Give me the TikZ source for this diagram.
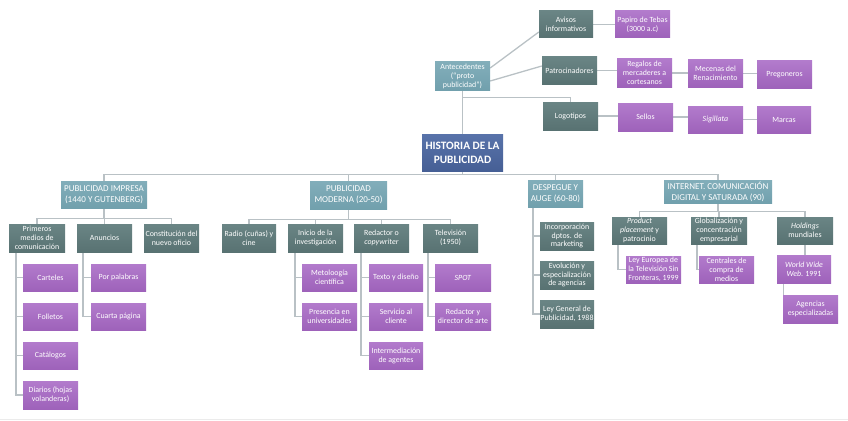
\documentclass[tikz,border=0pt]{standalone}
\usepackage{fontspec}
\setmainfont{Carlito}
\usetikzlibrary{backgrounds,calc}
\definecolor{dkA}{HTML}{6A8585}
\definecolor{dkB}{HTML}{587272}
\definecolor{puA}{HTML}{B27BCC}
\definecolor{puB}{HTML}{9E62BA}
\definecolor{ltA}{HTML}{82AEBA}
\definecolor{ltB}{HTML}{71A0AD}
\definecolor{rtA}{HTML}{5873AA}
\definecolor{rtB}{HTML}{465F95}
\definecolor{lncol}{HTML}{B9C1C5}
\begin{document}
\begin{tikzpicture}[x=1pt,y=-1pt,
  bx/.style={minimum width=55pt,minimum height=27pt,inner sep=0.3pt,align=center,text=white,font=\fontsize{7.9}{8.9}\selectfont},
  dk/.style={bx,top color=dkA,bottom color=dkB},
  pu/.style={bx,top color=puA,bottom color=puB},
  lt/.style={bx,top color=ltA,bottom color=ltB,font=\fontsize{9}{11}\selectfont},
  rt/.style={bx,top color=rtA,bottom color=rtB,font=\fontsize{11.3}{14}\selectfont\bfseries},
  ln/.style={draw=lncol,line width=1.3pt}]
\useasboundingbox (0,0) rectangle (848,420);
% top part
\node[lt,minimum height=28pt,font=\fontsize{7.9}{8.9}\selectfont] (ant) at (462.5,76) {Antecedentes\\(``proto\\publicidad'')};
\node[dk,minimum width=54pt] (avi) at (566,24.5) {Avisos\\informativos};
\node[pu] (pap) at (642.5,24.5) {Papiro de Tebas\\(3000 a.c)};
\node[dk] (pat) at (569.5,70.5) {Patrocinadores};
\node[pu,minimum height=28pt] (reg) at (644.5,73) {Regalos de\\mercaderes a\\cortesanos};
\node[pu] (mec) at (715.5,73.5) {Mecenas del\\Renacimiento};
\node[pu] (pre) at (784.5,74.5) {Pregoneros};
\node[dk,minimum height=28pt] (log) at (570.5,116) {Logotipos};
\node[pu,minimum height=28pt] (sel) at (645.5,117) {Sellos};
\node[pu] (sig) at (715.5,119.5) {\textit{Sigillata}};
\node[pu,minimum width=54pt] (mar) at (784,119.5) {Marcas};
% root
\node[rt,minimum width=81pt,minimum height=37pt] (root) at (462.5,152.5) {HISTORIA DE LA\\PUBLICIDAD};
% level 1
\node[lt,minimum width=86pt] (imp) at (104,194.5) {PUBLICIDAD IMPRESA\\(1440 Y GUTENBERG)};
\node[lt,minimum width=77pt,minimum height=28pt] (mod) at (348.5,195) {PUBLICIDAD\\MODERNA (20-50)};
\node[lt] (des) at (555.5,193.5) {DESPEGUE Y\\AUGE (60-80)};
\node[lt,minimum width=108pt,minimum height=23pt] (int) at (718,191.5) {INTERNET. COMUNICACIÓN\\DIGITAL Y SATURADA (90)};
% impresa
\node[dk,minimum width=56pt,minimum height=28pt] (pri) at (37,238) {Primeros\\medios de\\comunicación};
\node[dk,minimum height=28pt] (anu) at (104.5,238) {Anuncios};
\node[dk,minimum height=28pt] (con) at (171.5,238) {Constitución del\\nuevo oficio};
\node[pu] (car) at (50.5,277.5) {Carteles};
\node[pu] (fol) at (50.5,316.5) {Folletos};
\node[pu] (cat) at (50.5,355.5) {Catálogos};
\node[pu,minimum height=28pt] (dia) at (50.5,395) {Diarios (hojas\\volanderas)};
\node[pu] (pal) at (118.5,277.5) {Por palabras};
\node[pu] (cua) at (118.5,316.5) {Cuarta página};
% moderna
\node[dk,minimum width=54pt,minimum height=28pt] (rad) at (249,238) {Radio (cuñas) y\\cine};
\node[dk,minimum height=28pt] (ini) at (315.5,238) {Inicio de la\\investigación};
\node[dk,minimum height=28pt] (red) at (381.5,238) {Redactor o\\\textit{copywriter}};
\node[dk,minimum height=28pt] (tel) at (450.5,238) {Televisión\\(1950)};
\node[pu] (met) at (329.5,277.5) {Metoloogía\\científica};
\node[pu] (pres) at (329.5,316.5) {Presencia en\\universidades};
\node[pu,minimum width=54pt] (tex) at (396,277.5) {Texto y diseño};
\node[pu,minimum width=54pt] (ser) at (396,316.5) {Servicio al\\cliente};
\node[pu,minimum width=54pt] (inte) at (396,355.5) {Intermediación\\de agentes};
\node[pu,minimum width=56pt] (spot) at (463,277.5) {\textit{SPOT}};
\node[pu,minimum width=56pt] (rda) at (463,316.5) {Redactor y\\director de arte};
% despegue
\node[dk,minimum width=54pt,minimum height=28pt] (inc) at (567,236) {Incorporación\\dptos. de\\marketing};
\node[dk,minimum width=54pt,minimum height=28pt] (evo) at (567,275) {Evolución y\\especialización\\de agencias};
\node[dk,minimum width=54pt,minimum height=28pt] (ley) at (567,314) {Ley General de\\Publicidad, 1988};
% internet
\node[dk] (pro) at (639.5,230.5) {\textit{Product}\\\textit{placement} y\\patrocinio};
\node[dk,minimum width=56pt] (glo) at (719,230.5) {Globalización y\\concentración\\empresarial};
\node[dk,minimum width=56pt] (hol) at (805,230.5) {\textit{Holdings}\\mundiales};
\node[pu] (leu) at (653.5,269.5) {Ley Europea de\\la Televisión Sin\\Fronteras, 1999};
\node[pu] (cen) at (726.5,269.5) {Centrales de\\compra de\\medios};
\node[pu,minimum width=54pt,minimum height=28pt] (www) at (804,269) {\textit{World Wide}\\\textit{Web}. 1991};
\node[pu,minimum height=28pt] (age) at (810.5,309) {Agencias\\especializadas};
% connectors
\begin{scope}[on background layer]
\draw[ln] ([yshift=8pt]ant.east) -- ([yshift=-7.5pt]avi.west);
\draw[ln] ([yshift=-5pt]ant.east) -- ([yshift=4.5pt]pat.west);
\draw[ln] (ant.south) -- ++(0,7) -| (log.north);
\draw[ln] (ant.south) -- (root.north);
\draw[ln] (avi.east) -- (avi.east -| pap.west);
\draw[ln] (pat.east) -- (pat.east -| reg.west);
\draw[ln] (reg.east) -- (reg.east -| mec.west);
\draw[ln] (mec.east) -- (mec.east -| pre.west);
\draw[ln] (log.east) -- (log.east -| sel.west);
\draw[ln] (sel.east) -- (sel.east -| sig.west);
\draw[ln] (sig.east) -- (sig.east -| mar.west);
% main bus
\coordinate (bus) at ($(root.south)+(0,3)$);
\draw[ln] (root.south) -- (bus);
\foreach \c in {imp,mod,des,int} \draw[ln] (\c.north) |- (bus);
% impresa
\coordinate (bi) at ($(imp.south)+(0,10)$);
\draw[ln] (imp.south) -- (bi);
\foreach \c in {pri,anu,con} \draw[ln] (\c.north) |- (bi);
\foreach \c in {car,fol,cat,dia} \draw[ln] ([xshift=-21pt]pri.south) |- (\c.west);
\foreach \c in {pal,cua} \draw[ln] ([xshift=-21.5pt]anu.south) |- (\c.west);
% moderna
\coordinate (bm) at ($(mod.south)+(0,10)$);
\draw[ln] (mod.south) -- (bm);
\foreach \c in {rad,ini,red,tel} \draw[ln] (\c.north) |- (bm);
\foreach \c in {met,pres} \draw[ln] ([xshift=-20.5pt]ini.south) |- (\c.west);
\foreach \c in {tex,ser,inte} \draw[ln] ([xshift=-20.5pt]red.south) |- (\c.west);
\foreach \c in {spot,rda} \draw[ln] ([xshift=-22.5pt]tel.south) |- (\c.west);
% despegue
\foreach \c in {inc,evo,ley} \draw[ln] ([xshift=-22.5pt]des.south) |- (\c.west);
% internet
\coordinate (bn) at ($(int.south)+(0,8)$);
\draw[ln] (int.south) -- (bn);
\foreach \c in {pro,glo,hol} \draw[ln] (\c.north) |- (bn);
\draw[ln] ([xshift=-21.5pt]pro.south) |- (leu.west);
\draw[ln] ([xshift=-22pt]glo.south) |- (cen.west);
\draw[ln] (hol.south) -- (hol.south |- www.north);
\draw[ln] ([xshift=-20.5pt]www.south) |- (age.west);
\end{scope}
\draw[draw=black!8,line width=1pt] (0,419) -- (848,419);
\end{tikzpicture}
\end{document}
